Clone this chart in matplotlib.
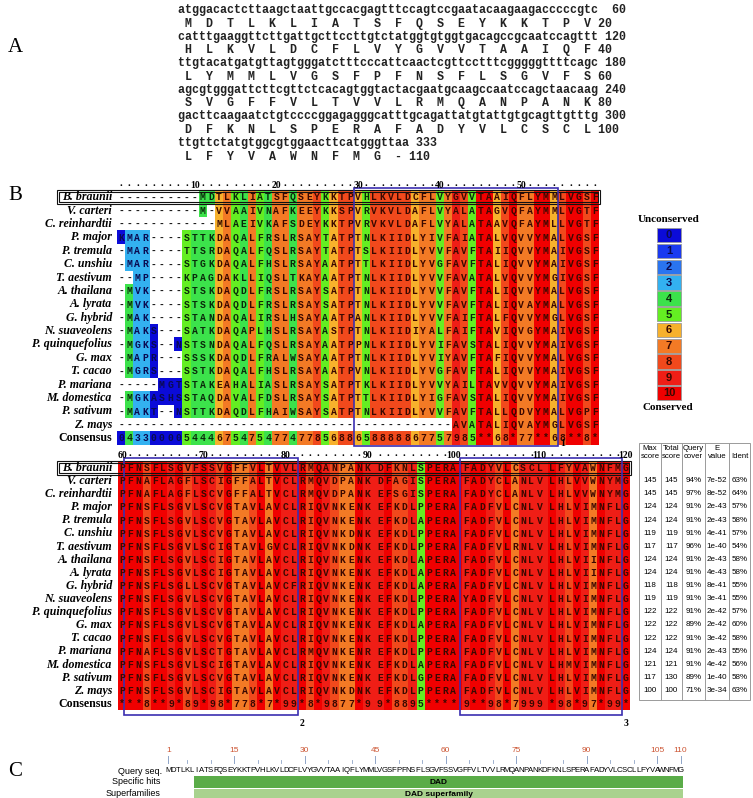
import numpy as np
import matplotlib.pyplot as plt
import matplotlib as mpl
from matplotlib.patches import Rectangle
from matplotlib.collections import PatchCollection

mpl.rcParams['font.family'] = 'DejaVu Sans'

SERIF = 'Liberation Serif'
MONO = 'Liberation Mono'
SANS = 'Liberation Sans'

# ---------------- panel A : cDNA and deduced protein ----------------
nt_lines = ['atggacactcttaagctaattgccacgagtttccagtccgaatacaagaagacccccgtc',
            'catttgaaggttcttgattgcttccttgtctatggtgtggtgacagccgcaatccagttt',
            'ttgtacatgatgttagtgggatctttcccattcaactcgttcctttcgggggttttcagc',
            'agcgtgggattcttcgttctcacagtggtactacgaatgcaagccaatccagctaacaag',
            'gacttcaagaatctgtccccggagagggcatttgcagattatgtattgtgcagttgtttg',
            'ttgttctatgtggcgtggaacttcatgggttaa']
nt_ends = [60, 120, 180, 240, 300, 333]
aa_lines = ['MDTLKLIATSFQSEYKKTPV', 'HLKVLDCFLVYGVVTAAIQF', 'LYMMLVGSFPFNSFLSGVFS',
            'SVGFFVLTVVLRMQANPANK', 'DFKNLSPERAFADYVLCSCL', 'LFYVAWNFMG-']
aa_ends = [20, 40, 60, 80, 100, 110]

# ---------------- panel B : PRALINE alignment ----------------
species = ['B. braunii', 'V. carteri', 'C. reinhardtii', 'P. major', 'P. tremula',
           'C. unshiu', 'T. aestivum', 'A. thailana', 'A. lyrata', 'G. hybrid',
           'N. suaveolens', 'P. quinquefolius', 'G. max', 'T. cacao', 'P. mariana',
           'M. domestica', 'P. sativum', 'Z. mays']

top_seqs = ['----------MDTLKLIATSFQSEYKKTPVHLKVLDCFLVYGVVTAAIQFLYMMLVGSF',
            '----------M-VVAAIVNAFKEEYKKSPVRVKVLDAFLVYALATAGVQFAYMMLVGTF',
            '------------MLAEIVKAFSDEYKKTPVRVKVLDAFLVYALATAAVQFAYMLLVGTF',
            'KMAR----STTKDAQALFRSLRSAYTATPTNLKIIDLYIVFAIATALVQVVYMALVGSF',
            '-MAR----TTSRDAQALFQSLRSAYTATPTSLKIIDLYVVFAVFTAIIQVVYMAIVGSF',
            '-MAR----STGKDAQALFHSLRSAYAATPTTLKIIDLYVGFAVFTALIQVVYMAIVGSF',
            '--MP----KPAGDAKLLIQSLTKAYAATPTNLKIIDLYVVFAVATALVQVVYMGIVGSF',
            '-MVK----STSKDAQDLFRSLRSAYSATPTNLKIIDLYVVFAVFTALIQVVYMALVGSF',
            '-MVK----STSKDAQDLFRSLRSAYSATPTNLKIIDLYVVFAVFTALIQVAYMALVGSF',
            '-MAK----STANDAQALIRSLHSAYAATPANLKIIDLYVVFAIFTALFQVVYMGLVGSF',
            '-MAKS---SATKDAQAPLHSLRSAYASTPTNLKIIDIYALFAIFTAVIQVGYMAIVGSF',
            '-MGKS--NSTSNDAQALFQSLRSAYAATPPNLKIIDLYVIFAVSTALIQVVYMAIVGSF',
            '-MAPR---SSSKDAQDLFRALWSAYAATPTNLKIIDLYVIYAVFTAFIQVVYMALVGSF',
            '-MGRS---SSTKDAQALFHSLRSAYAATPVNLKIIDLYVGFAVFTALIQVVYMAIVGSF',
            '-----MGTSTAKEAHALIASLRSAYSATPTKLKIIDLYVVYAILTAVVQVVYMAIVGSF',
            '-MGKASHSSTAQDAVALFDSLRSAYSATPTTLKIIDLYIGFAVSTALIQVVYMAIVGSF',
            '-MAKT--NSTTKDAQDLFHAIWSAYSATPTNLKIIDLYVVFAVFTALLQDVYMALVGPF',
            '-----------------------------------------AVATALIQVAYMGLVGSF']

bot_seqs = ['PFNSFLSGVFSSVGFFVLTVVLRMQANPANKDFKNLSPERAFADYVLCSCLLFYVAWNFMG',
            'PFNAFLAGFLSCIGFFALTVCLRMQVDPANKDFAGISPERAFADYCLANLVLHLVVWNYMG',
            'PFNAFLAGFLSCVGFFALTVCLRMQVDPANKEFSGISPERAFADYCLANLVLHLVVWNYMG',
            'PFNSFLSGVLSCVGTAVLAVCLRIQVNKENKEFKDLPPERAFADFVLCNLVLHLVIMNFLG',
            'PFNSFLSGVLSCVGTAVLAVCLRIQVNKENKEFKDLAPERAFADFVLCNLVLHLVIMNFLG',
            'PFNSFLSGVLSCVGTAVLAVCLRIQVNKDNKEFKDLPPERAFADFVLCNLVLHLVIMNFLG',
            'PFNSFLSGVLSCIGTAVLGVCLRIQVNKDNKEFKDLPPERAFADFVLRNLVLHLVIMNFLG',
            'PFNSFLSGVLSCIGTAVLAVCLRIQVNKENKEFKDLAPERAFADFVLCNLVLHLVIINFLG',
            'PFNSFLSGVLSCIGTAVLAVCLRIQVNKENKEFKDLAPERAFADFVLCNLVLHLVIINFLG',
            'PFNSFLSGLLSCVGTAVLAVCFRIQVNKENKEFKDLAPERAFADFVLCNLVLHLVIMNFLG',
            'PFNSFLSGVLSCVGTAVLAVCLRIQVNKENKEFKDLPPERAYADFVLCNLVLHLVIMNFLG',
            'PFNSFLSGVLSCVGTAVLAVCLRIQVNKENKEFKDLPPERAFADFVLCNLVLHLVIMNFLG',
            'PFNSFLSGVLSCVGTAVLAVCLRIQVNKENKEFKDLAPERAFADFVLCNLVLHLVIMNFLG',
            'PFNSFLSGVLSCVGTAVLAVCLRIQVNKENKEFKDLPPERAFADFVLCNLVLHLVIMNFLG',
            'PFNAFLSGVLSCTGTAVLAVCLRMQVNKENREFKDLPPERAFADFVLCNLVLHLVIMNFLG',
            'PFNSFLSGVLSCIGTAVLAVCLRIQVNKENKEFKDLAPERAFADFVLCNLVLHMVIMNFLG',
            'PFNSFLSGVLSCVGTAVLAVCLRIQVNKENKEFKDLGPERAFADFVLCNLVLHLVIMNFLG',
            'PFNSFLSGVLSCIGTAVLAVCLRIQVNKDNKEFKDLPPERAFADFVLCNLVLHLVIMNFLG']

top_cons = '043300005444675475477477856886' + '58888867757985**68*77**68**8*'
bot_cons = '***8**9*89*98*778*7*99*8*9877*9' + '9*8895****9**98*7999*98*97*99*'

# residues shaded differently from their column score (row, column index)
top_cell_fix = {(3, 1): 3, (4, 1): 3, (5, 1): 3}

score_colors = ['#0b0bd8', '#1a3af0', '#2a74f0', '#33b1f0', '#3ce24b', '#64ee22',
                '#f7b12c', '#f37a25', '#f1491c', '#ef1e16', '#f00000']
score_text = ['#0a0a50'] * 4 + ['#0a2a0a'] * 2 + ['#3a0800'] * 5

# BLAST hits vs B. braunii
max_score = [145, 145, 124, 124, 119, 117, 124, 124, 118, 119, 122, 122, 122, 124, 121, 117, 100]
total_score = [145, 145, 124, 124, 119, 117, 124, 124, 118, 119, 122, 122, 122, 124, 121, 130, 100]
query_cover = [94, 97, 91, 91, 91, 96, 91, 91, 91, 91, 91, 89, 91, 91, 91, 89, 71]
e_value = ['7e-52', '8e-52', '2e-43', '2e-43', '4e-41', '1e-40', '2e-43', '4e-43', '8e-41',
           '3e-41', '2e-42', '2e-42', '3e-42', '2e-43', '4e-42', '1e-40', '3e-34']
ident = [63, 64, 57, 58, 57, 54, 58, 58, 55, 55, 57, 60, 58, 55, 56, 58, 63]

# conserved regions (first, last alignment column)
regions = [(30, 54), (61, 81), (101, 119)]

# ---------------- panel C : CD-search ----------------
query_seq = 'MDTLKLIATSFQSEYKKTPVHLKVLDCFLVYGVVTAAIQFLYMMLVGSFPFNSFLSGVFSSVGFFVLTVVLRMQANPANKDFKNLSPERAFADYVLCSCLLFYVAWNFMG'
ruler_marks = [1, 15, 30, 45, 60, 75, 90, 105, 110]
dad_span = (7, 110)


fig = plt.figure(figsize=(7.53, 7.98), dpi=100)
ax = fig.add_axes([0, 0, 1, 1])
ax.set_xlim(0, 753)
ax.set_ylim(798, 0)
ax.axis('off')

# panel letters
for lab, y in [('A', 48), ('B', 196), ('C', 771)]:
    ax.text(8, y, lab, fontsize=15, family=SERIF, va='center', ha='left')

# ---- panel A
for i in range(len(nt_lines)):
    nt = nt_lines[i] + ' %3d' % nt_ends[i]
    aa = ''.join(' %s ' % a for a in aa_lines[i])[:-1] + ' %d' % aa_ends[i]
    ax.text(178, 10 + i * 26.6, nt, family=MONO, fontsize=8.4, fontweight='bold',
            va='center', ha='left', color='#222222')
    ax.text(178, 23.5 + i * 26.6, aa, family=MONO, fontsize=8.4, fontweight='bold',
            va='center', ha='left', color='#222222')


# ---- panel B
def score_of(c):
    return 10 if c == '*' else int(c)


def make_block(seqs, cons, first, x0, w, gaps, y0, dy, fix, ruler_y):
    n = len(cons)

    def left(k):
        return x0 + (k - first) * w + sum(g for c, g in gaps if k > c)

    patches, colors = [], []
    rows = seqs + [cons]
    for r, seq in enumerate(rows):
        y = y0 + r * dy
        for j, ch in enumerate(seq):
            k = first + j
            xl = left(k)
            xr = left(k + 1) if j < n - 1 else xl + w
            if r == len(seqs):
                s = score_of(ch)
            elif ch == '-':
                s = None
            else:
                s = fix.get((r, j), score_of(cons[j]))
            if s is not None:
                patches.append(Rectangle((xl, y - dy / 2), xr - xl + 0.4, dy + 0.4))
                colors.append(score_colors[s])
            tc = '#111111' if s is None else score_text[s]
            ax.text(xl + w / 2, y + 0.5, ch, family=MONO, fontsize=7, fontweight='bold',
                    ha='center', va='center', color=tc)
        if r < len(seqs):
            ax.text(112, y + 0.3, species[r], family=SERIF, fontsize=8.6, fontweight='bold',
                    style='italic', ha='right', va='center')
        else:
            ax.text(112, y + 0.3, 'Consensus', family=SERIF, fontsize=8.6, fontweight='bold',
                    ha='right', va='center')
    ax.add_collection(PatchCollection(patches, facecolor=colors, edgecolor='none', linewidth=0))

    # ruler
    for j in range(n):
        k = first + j
        xc = left(k) + w / 2
        if k % 10 == 0:
            ax.text(xc, ruler_y, str(k), family=SERIF, fontsize=7, fontweight='bold',
                    ha='center', va='center')
        else:
            ax.text(xc, ruler_y - 1.5, '.', family=SERIF, fontsize=8, fontweight='bold',
                    ha='center', va='center')

    # box around the query row
    right = left(first + n - 1) + w + 1
    for off in (0, 2):
        ax.add_patch(Rectangle((57 + off, y0 - dy / 2 - 0.5 + off), right - 57 - 2 * off,
                               dy + 1 - 2 * off, fill=False, lw=0.8, ec='#111111'))
    return left


top_left = make_block(top_seqs, top_cons, 1, 117, 8.17, [], 197, 13.38, top_cell_fix, 185)
bot_left = make_block(bot_seqs, bot_cons, 60, 118, 8.17, [(90, 4.5), (100, 4.5), (110, 4.5)],
                      467.7, 13.1, {}, 455)

# conserved regions
box_color = '#3b2fb0'
for i, (a, b) in enumerate(regions):
    if b <= 59:
        xl, xr, yt, yb = top_left(a), top_left(b + 1), 188, 446
    else:
        xl, xr, yt, yb = bot_left(a) - 2, bot_left(b + 1), 458, 715
    ax.add_patch(Rectangle((xl, yt), xr - xl, yb - yt, fill=False, lw=1.2, ec=box_color))
    ax.text(xr + 4, yb - 3 if i == 0 else yb + 8, str(i + 1), family=SERIF, fontsize=7,
            fontweight='bold', ha='center', va='center')

# colour key
ax.text(669, 220, 'Unconserved', family=SERIF, fontsize=8, fontweight='bold',
        ha='center', va='center')
for s in range(11):
    y = 228 + s * 15.8
    ax.add_patch(Rectangle((657, y), 24, 14.3, fc=score_colors[s], ec='#9a9a9a', lw=0.6))
    ax.text(669, y + 7.5, str(s), family=SANS, fontsize=8, fontweight='bold',
            ha='center', va='center', color=score_text[s])
ax.text(668, 407, 'Conserved', family=SERIF, fontsize=8, fontweight='bold',
        ha='center', va='center')

# BLAST table
tx = [639, 661, 682, 705, 729, 750]
ty0, ty1 = 443, 700
ax.add_patch(Rectangle((tx[0], ty0), tx[-1] - tx[0], ty1 - ty0, fill=False, lw=0.7, ec='#9a9a9a'))
for x in tx[1:-1]:
    ax.plot([x, x], [ty0, ty1], color='#9a9a9a', lw=0.7)
heads = [('Max', 'score'), ('Total', 'score'), ('Query', 'cover'), ('E', 'value'), ('', 'Ident')]
for c, (h1, h2) in enumerate(heads):
    xc = (tx[c] + tx[c + 1]) / 2
    ax.text(xc, 448, h1, family=SANS, fontsize=5.6, ha='center', va='center')
    ax.text(xc, 456, h2, family=SANS, fontsize=5.6, ha='center', va='center')
for i in range(len(max_score)):
    y = 467.7 + (i + 1) * 13.1
    vals = [str(max_score[i]), str(total_score[i]), '%d%%' % query_cover[i], e_value[i],
            '%d%%' % ident[i]]
    for c, v in enumerate(vals):
        xc = (tx[c] + tx[c + 1]) / 2
        ax.text(xc, y, v, family=SANS, fontsize=5.8, ha='center', va='center')

# ---- panel C
qx0, qw = 166, 4.7


def qx(i):
    return qx0 + (i - 0.5) * qw


for m in ruler_marks:
    ax.text(qx(m), 750, str(m), family=SANS, fontsize=6, color='#cc5533',
            ha='center', va='center')
    ax.plot([qx(m), qx(m)], [756, 763], color='#8fa5c8', lw=0.7)
for m in range(5, 110, 5):
    if m not in ruler_marks:
        ax.plot([qx(m), qx(m)], [760, 763], color='#8fa5c8', lw=0.6)
for i, ch in enumerate(query_seq):
    ax.text(qx(i + 1), 771, ch, family=SANS, fontsize=5.6, ha='center', va='center')

ax.text(162, 771, 'Query seq.', family=SANS, fontsize=6.5, ha='right', va='center')
ax.text(160, 782, 'Specific hits', family=SANS, fontsize=6.5, ha='right', va='center')
ax.text(160, 794, 'Superfamilies', family=SANS, fontsize=6.5, ha='right', va='center')

xa, xb = qx(dad_span[0]) - qw / 2, qx(dad_span[1]) + qw / 2
ax.add_patch(Rectangle((xa, 776), xb - xa, 11.5, fc='#5aac48', ec='none'))
ax.add_patch(Rectangle((xa, 789), xb - xa, 10, fc='#a9d28e', ec='none'))
ax.text((xa + xb) / 2, 782, 'DAD', family=SANS, fontsize=6, fontweight='bold',
        ha='center', va='center')
ax.text((xa + xb) / 2, 794, 'DAD superfamily', family=SANS, fontsize=6, fontweight='bold',
        ha='center', va='center')

plt.savefig('out.png', dpi=100)
